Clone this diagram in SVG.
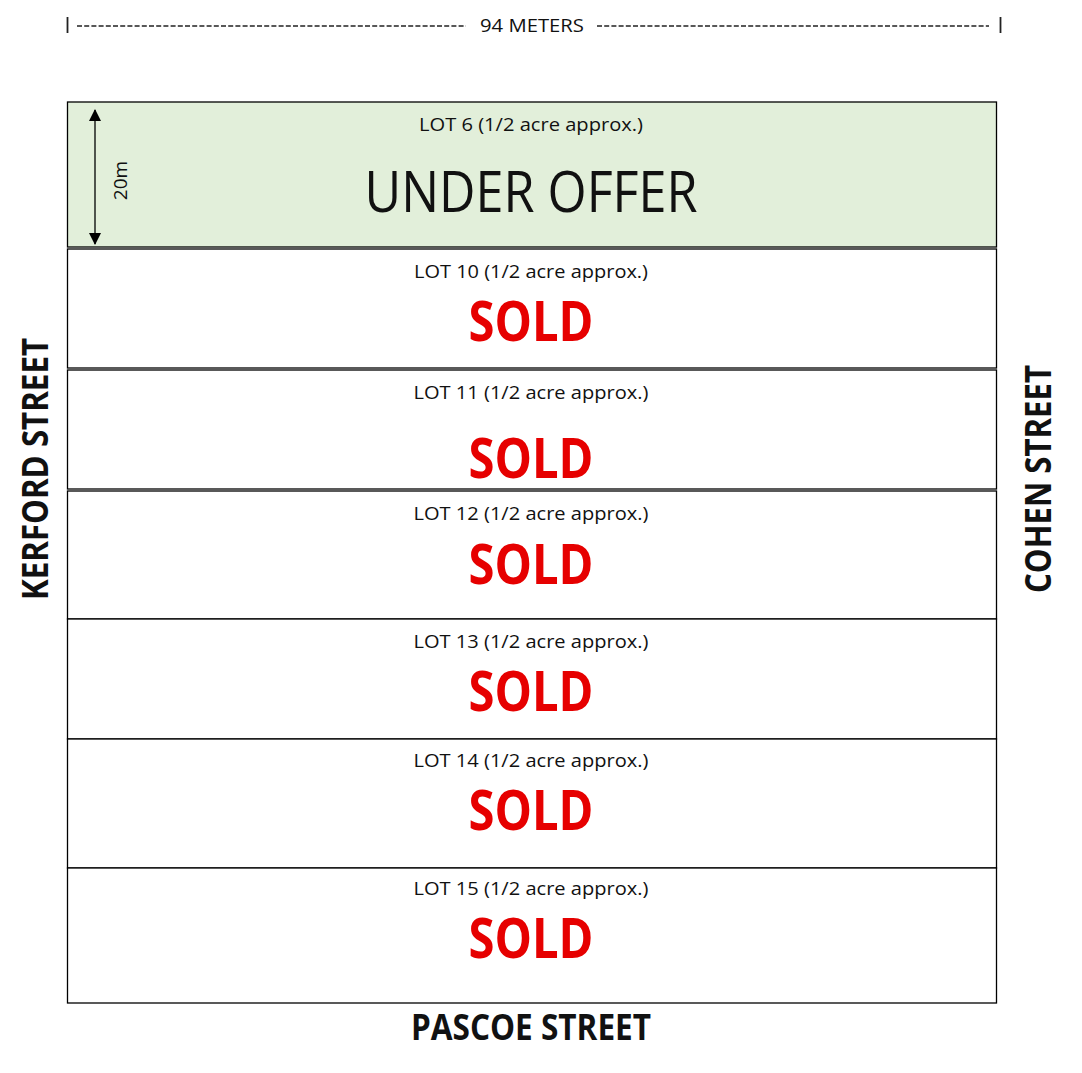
<svg xmlns="http://www.w3.org/2000/svg" width="1082" height="1073" viewBox="0 0 1082 1073">
<style>
.bg{fill:#ffffff}
.lot{fill:#ffffff;stroke:#000;stroke-width:1.3}
.offer{fill:#e2efda;stroke:#000;stroke-width:1.3}
.t{font-family:'Open Sans','Liberation Sans',sans-serif;text-anchor:middle;fill:#111}
.label{font-size:18px}
.sold{font-size:55px;font-weight:bold;fill:#e60000}
.big{font-size:56px}
.street{font-size:36px;font-weight:bold}
.dash{stroke:#222;stroke-width:1.5;stroke-dasharray:5 2.2;fill:none}
.tick{stroke:#222;stroke-width:1.8}
.dim{stroke:#000;stroke-width:1.3;fill:none}
</style>
<defs>
<marker id="ah" viewBox="0 0 12 12" refX="11" refY="6" markerWidth="12" markerHeight="12" markerUnits="userSpaceOnUse" orient="auto-start-reverse">
<path d="M0,0 L12,6 L0,12 Z" fill="#000"/>
</marker>
</defs>
<rect class="bg" x="0" y="0" width="1082" height="1073"/>

<g id="dimension-top">
<line class="tick" x1="67.5" y1="17" x2="67.5" y2="33"/>
<line class="dash" x1="77" y1="26" x2="466" y2="26"/>
<text class="t label" x="532" y="32" textLength="104" lengthAdjust="spacingAndGlyphs">94 METERS</text>
<line class="dash" x1="597" y1="26" x2="989" y2="26"/>
<line class="tick" x1="1000.5" y1="17" x2="1000.5" y2="33"/>
</g>

<g id="lot6">
<rect class="offer" x="67.5" y="102" width="929" height="145"/>
<text class="t label" x="531" y="131" textLength="224" lengthAdjust="spacingAndGlyphs">LOT 6 (1/2 acre approx.)</text>
<text class="t big" x="531" y="212" textLength="333" lengthAdjust="spacingAndGlyphs">UNDER OFFER</text>
<text class="t" x="0" y="0" font-size="19" transform="translate(127 180.5) rotate(-90)">20m</text>
</g>

<g id="lot10">
<rect class="lot" x="67.5" y="249" width="929" height="119"/>
<text class="t label" x="531" y="278" textLength="234" lengthAdjust="spacingAndGlyphs">LOT 10 (1/2 acre approx.)</text>
<text class="t sold" x="531" y="341" textLength="125" lengthAdjust="spacingAndGlyphs">SOLD</text>
</g>

<g id="lot11">
<rect class="lot" x="67.5" y="370" width="929" height="119"/>
<text class="t label" x="531" y="399" textLength="235" lengthAdjust="spacingAndGlyphs">LOT 11 (1/2 acre approx.)</text>
<text class="t sold" x="531" y="478" textLength="125" lengthAdjust="spacingAndGlyphs">SOLD</text>
</g>

<g id="lot12">
<rect class="lot" x="67.5" y="491" width="929" height="128"/>
<text class="t label" x="531" y="520" textLength="235" lengthAdjust="spacingAndGlyphs">LOT 12 (1/2 acre approx.)</text>
<text class="t sold" x="531" y="584" textLength="125" lengthAdjust="spacingAndGlyphs">SOLD</text>
</g>

<g id="lot13">
<rect class="lot" x="67.5" y="619" width="929" height="120"/>
<text class="t label" x="531" y="648" textLength="235" lengthAdjust="spacingAndGlyphs">LOT 13 (1/2 acre approx.)</text>
<text class="t sold" x="531" y="711" textLength="125" lengthAdjust="spacingAndGlyphs">SOLD</text>
</g>

<g id="lot14">
<rect class="lot" x="67.5" y="739" width="929" height="129"/>
<text class="t label" x="531" y="767" textLength="235" lengthAdjust="spacingAndGlyphs">LOT 14 (1/2 acre approx.)</text>
<text class="t sold" x="531" y="830" textLength="125" lengthAdjust="spacingAndGlyphs">SOLD</text>
</g>

<g id="lot15">
<rect class="lot" x="67.5" y="868" width="929" height="135"/>
<text class="t label" x="531" y="895" textLength="235" lengthAdjust="spacingAndGlyphs">LOT 15 (1/2 acre approx.)</text>
<text class="t sold" x="531" y="958" textLength="125" lengthAdjust="spacingAndGlyphs">SOLD</text>
</g>

<g id="streets">
<text id="kerford" class="t street" x="0" y="0" transform="translate(48 469) rotate(-90)" textLength="262" lengthAdjust="spacingAndGlyphs">KERFORD STREET</text>
<text id="cohen" class="t street" x="0" y="0" transform="translate(1051 479) rotate(-90)" textLength="228" lengthAdjust="spacingAndGlyphs">COHEN STREET</text>
<text id="pascoe" class="t street" x="531" y="1040" font-size="35" textLength="240" lengthAdjust="spacingAndGlyphs">PASCOE STREET</text>
</g>

<g id="connectors">
<line class="dim" x1="95" y1="110" x2="95" y2="244" marker-start="url(#ah)" marker-end="url(#ah)"/>
</g>
</svg>
